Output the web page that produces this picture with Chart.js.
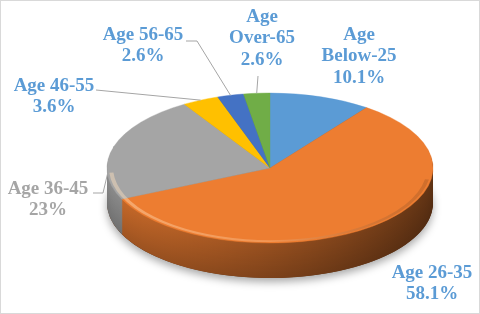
<!DOCTYPE html>
<html>
<head>
<meta charset="utf-8">
<script src="https://cdn.jsdelivr.net/npm/chart.js@4.4.1/dist/chart.umd.min.js"></script>
<style>
  html, body { margin: 0; padding: 0; background: #fff; }
  canvas { display: block; }
</style>
</head>
<body>
<canvas id="ageChart" width="480" height="314"></canvas>
<script>
const categories = ["Age Below-25", "Age 26-35", "Age 36-45", "Age 46-55", "Age 56-65", "Age Over-65"];
const shares = [10.1, 58.1, 23, 3.6, 2.6, 2.6];
const colors = ["#5b9bd5", "#ed7d31", "#a5a5a5", "#ffc000", "#4472c4", "#70ad47"];

// where the pie sits on the page (top face ellipse) and how thick it is
const PIE = { cx: 270, cy: 168, rx: 163, ry: 75, depth: 35 };

// label layout: centre of first text line, wrap = category split onto two lines
const labelPos = [
  { x: 359, y: 35, wrap: true, color: "#5b9bd5" },
  { x: 432, y: 273, wrap: false, color: "#5b9bd5" },
  { x: 48, y: 189, wrap: false, color: "#a5a5a5", line: [[93, 193], [103, 193]] },
  { x: 54, y: 86, wrap: false, color: "#5b9bd5", line: [[96, 90]] },
  { x: 143, y: 35, wrap: false, color: "#5b9bd5", line: [[186, 41], [197, 41]] },
  { x: 262, y: 17, wrap: true, color: "#5b9bd5", line: [[258, 76]] }
];

function shade(hex, f) {
  const n = parseInt(hex.slice(1), 16);
  const r = Math.round(((n >> 16) & 255) * f);
  const g = Math.round(((n >> 8) & 255) * f);
  const b = Math.round((n & 255) * f);
  return "rgb(" + r + "," + g + "," + b + ")";
}

// mid point of a slice's outer rim, on the page
function rimPoint(arc) {
  const a = (arc.startAngle + arc.endAngle) / 2;
  return [PIE.cx + PIE.rx * Math.cos(a), PIE.cy + PIE.ry * Math.sin(a)];
}

const pie3d = {
  id: "pie3d",
  beforeDatasetsDraw(chart) {
    const ctx = chart.ctx;
    const arcs = chart.getDatasetMeta(0).data;
    const cx = arcs[0].x, cy = arcs[0].y, r = arcs[0].outerRadius;
    const sx = PIE.rx / r, sy = PIE.ry / r;
    ctx.save();
    ctx.translate(PIE.cx, PIE.cy);
    ctx.scale(sx, sy);
    ctx.translate(-cx, -cy);

    // soft shadow under the disc
    ctx.save();
    ctx.translate(0, PIE.depth / sy);
    ctx.shadowColor = "rgba(0,0,0,0.35)";
    ctx.shadowBlur = 9;
    ctx.shadowOffsetY = 4;
    ctx.beginPath();
    ctx.arc(cx, cy, r, 0, Math.PI * 2);
    ctx.fillStyle = "#5a2d10";
    ctx.fill();
    ctx.restore();

    // side wall, built up from stacked layers
    for (let d = PIE.depth; d >= 1; d--) {
      const lift = 1 - 0.18 * (d / PIE.depth);
      ctx.save();
      ctx.translate(0, d / sy);
      arcs.forEach((arc, i) => {
        const g = ctx.createLinearGradient(cx - r, 0, cx + r, 0);
        g.addColorStop(0, shade(colors[i], 0.85 * lift));
        g.addColorStop(0.45, shade(colors[i], 0.66 * lift));
        g.addColorStop(1, shade(colors[i], 0.42 * lift));
        ctx.beginPath();
        ctx.moveTo(cx, cy);
        ctx.arc(cx, cy, r, arc.startAngle, arc.endAngle);
        ctx.closePath();
        ctx.fillStyle = g;
        ctx.fill();
      });
      ctx.restore();
    }
  },
  afterDatasetsDraw(chart) {
    const ctx = chart.ctx;
    const arcs = chart.getDatasetMeta(0).data;
    const cx = arcs[0].x, cy = arcs[0].y, r = arcs[0].outerRadius;
    // bevel highlight along the front rim
    const g = ctx.createLinearGradient(cx - r, 0, cx + r, 0);
    g.addColorStop(0, "rgba(255,225,190,0.45)");
    g.addColorStop(0.5, "rgba(255,225,190,0.25)");
    g.addColorStop(1, "rgba(0,0,0,0.12)");
    ctx.beginPath();
    ctx.arc(cx, cy, r * 0.975, Math.PI * 0.05, Math.PI * 0.98);
    ctx.strokeStyle = g;
    ctx.lineWidth = r * 0.025;
    ctx.stroke();
    ctx.restore();
  },
  afterDraw(chart) {
    const ctx = chart.ctx;
    const arcs = chart.getDatasetMeta(0).data;
    ctx.save();
    // leader lines
    ctx.strokeStyle = "#a5a5a5";
    ctx.lineWidth = 1;
    labelPos.forEach((p, i) => {
      if (!p.line) return;
      ctx.beginPath();
      ctx.moveTo(p.line[0][0], p.line[0][1]);
      for (let k = 1; k < p.line.length; k++) ctx.lineTo(p.line[k][0], p.line[k][1]);
      const end = rimPoint(arcs[i]);
      ctx.lineTo(end[0], end[1]);
      ctx.stroke();
    });
    // labels
    ctx.font = "bold 19px 'Liberation Serif'";
    ctx.textAlign = "center";
    ctx.textBaseline = "middle";
    labelPos.forEach((p, i) => {
      const name = categories[i];
      const cut = name.indexOf(" ");
      const lines = p.wrap ? [name.slice(0, cut), name.slice(cut + 1)] : [name];
      lines.push(shares[i] + "%");
      ctx.fillStyle = p.color;
      lines.forEach((t, k) => ctx.fillText(t, p.x, p.y + k * 21.5));
    });
    // frame
    ctx.strokeStyle = "#d9d9d9";
    ctx.strokeRect(0.5, 0.5, 479, 313);
    ctx.restore();
  }
};

new Chart(document.getElementById("ageChart"), {
  type: "pie",
  data: {
    labels: categories,
    datasets: [{
      data: shares,
      backgroundColor: colors,
      borderColor: colors,
      borderWidth: 0.5,
      clip: false
    }]
  },
  options: {
    responsive: false,
    animation: false,
    events: [],
    plugins: {
      legend: { display: false },
      tooltip: { enabled: false }
    }
  },
  plugins: [pie3d]
});
</script>
</body>
</html>
